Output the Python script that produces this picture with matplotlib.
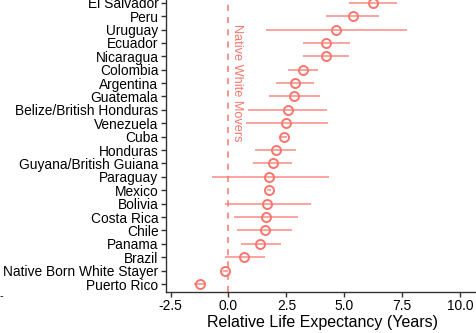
import numpy as np
import matplotlib.pyplot as plt

plt.rcParams['font.family'] = ['Liberation Sans', 'DejaVu Sans']

# origin groups, bottom to top
groups = ['Puerto Rico', 'Native Born White Stayer', 'Brazil', 'Panama', 'Chile',
          'Costa Rica', 'Bolivia', 'Mexico', 'Paraguay', 'Guyana/British Guiana',
          'Honduras', 'Cuba', 'Venezuela', 'Belize/British Honduras', 'Guatemala',
          'Argentina', 'Colombia', 'Nicaragua', 'Ecuador', 'Uruguay', 'Peru',
          'El Salvador']
estimate = [-1.21, -0.14, 0.69, 1.37, 1.56, 1.63, 1.66, 1.73, 1.76, 1.90,
            2.03, 2.39, 2.49, 2.55, 2.82, 2.85, 3.23, 4.19, 4.22, 4.64, 5.36,
            6.22]
lower = [-1.47, -0.24, -0.17, 0.52, 0.38, 0.25, -0.17, 1.64, -0.69, 1.07,
         1.15, 2.28, 0.75, 0.85, 1.73, 2.03, 2.58, 3.20, 3.20, 1.60, 4.22,
         5.18]
upper = [-0.95, -0.04, 1.56, 2.26, 2.75, 3.00, 3.54, 1.84, 4.35, 2.75,
         2.91, 2.52, 4.29, 4.26, 3.95, 3.69, 3.86, 5.20, 5.24, 7.71, 6.48,
         7.27]

red = '#F8766D'
y = np.arange(len(groups))
est = np.array(estimate)
err = [est - np.array(lower), np.array(upper) - est]

fig = plt.figure(figsize=(4.76, 3.33), dpi=100)
ax = fig.add_axes([0.349, 0.124, 0.657, 0.892])

ax.errorbar(est, y, xerr=err, fmt='none', ecolor=red, elinewidth=1.1,
            alpha=0.85, capsize=0)
ax.plot(est, y, 'o', mfc='none', mec=red, mew=1.4, ms=6.5)
ax.axvline(0, color=red, ls=(0, (4, 4)), lw=1.1)
ax.text(0.12, 19.4, 'Native White Movers', rotation=270, color=red,
        fontsize=9.2, ha='left', va='top')

ax.set_xlim(-2.69, 10.8)
ax.set_ylim(-0.57, 21.6)
ax.set_xticks([-2.5, 0, 2.5, 5, 7.5, 10])
ax.set_xticklabels(['-2.5', '0.0', '2.5', '5.0', '7.5', '10.0'])
ax.set_yticks(y)
ax.set_yticklabels(groups)
ax.set_xlabel('Relative Life Expectancy (Years)', fontsize=11.5, labelpad=1)

ax.tick_params(labelsize=9.9, length=3.5, width=1, color='#333333',
               labelcolor='black', pad=2)
for side in ['top', 'right']:
    ax.spines[side].set_visible(False)
for side in ['left', 'bottom']:
    ax.spines[side].set_color('#333333')
    ax.spines[side].set_linewidth(1)

fig.text(0.0, 0.11, '-', fontsize=8, va='center')

fig.savefig('out.png', dpi=100)
